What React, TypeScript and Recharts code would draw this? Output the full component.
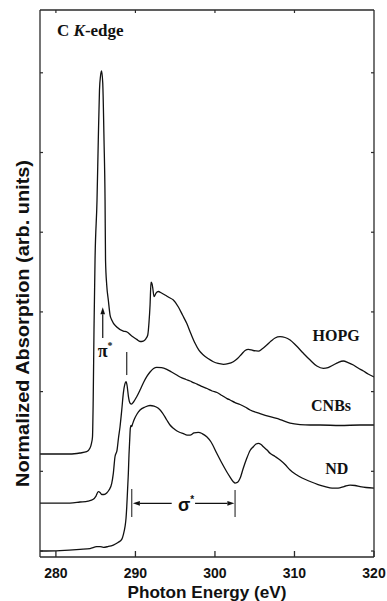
import React from 'react'
import {
  LineChart,
  Line,
  XAxis,
  YAxis,
  ReferenceLine,
  ReferenceDot,
} from 'recharts'

// photon energy (eV) / normalized absorption
const hopgEnergy = [
  278.0, 281.77, 283.03, 283.87, 284.29, 284.48, 284.6, 284.69, 284.79, 284.92,
  285.17, 285.33, 285.48, 285.61, 285.74, 285.89, 286.05, 286.18, 286.24, 286.39,
  286.59, 286.81, 287.02, 287.65, 288.48, 288.94, 289.53, 290.16, 290.58, 290.99,
  291.33, 291.55, 291.71, 291.84, 291.96, 292.09, 292.18, 292.34, 292.59, 292.88,
  293.28, 293.72, 294.23, 294.77, 295.4, 295.92, 296.45, 296.99, 297.5, 298.0,
  298.54, 299.13, 299.8, 300.39, 301.06, 301.65, 302.31, 302.84, 303.37, 303.79,
  304.2, 304.79, 305.46, 305.92, 306.52, 307.06, 307.56, 308.19, 308.82, 309.45,
  310.2, 311.12, 311.97, 312.81, 313.64, 314.23, 314.89, 315.48, 316.15, 316.74,
  317.41, 318.0, 318.67, 319.26, 320.0,
]
const hopgAbs = [
  1.217, 1.217, 1.23, 1.246, 1.292, 1.355, 1.43, 1.895, 2.773, 3.651,
  4.404, 5.157, 5.784, 5.96, 6.023, 5.872, 5.157, 4.404, 3.651, 3.338,
  3.149, 2.961, 2.898, 2.811, 2.76, 2.748, 2.698, 2.656, 2.629, 2.635,
  2.666, 2.71, 2.873, 3.087, 3.375, 3.35, 3.3, 3.191, 3.237, 3.256,
  3.237, 3.212, 3.181, 3.149, 3.062, 2.961, 2.857, 2.723, 2.606, 2.516,
  2.459, 2.415, 2.375, 2.353, 2.343, 2.35, 2.375, 2.415, 2.472, 2.516,
  2.531, 2.516, 2.509, 2.535, 2.585, 2.635, 2.673, 2.689, 2.679, 2.647,
  2.578, 2.481, 2.396, 2.321, 2.292, 2.302, 2.334, 2.365, 2.384, 2.365,
  2.334, 2.296, 2.258, 2.221, 2.183,
]

const cnbEnergy = [
  278.0, 281.77, 283.03, 284.04, 284.7, 285.04, 285.33, 285.55, 285.76, 286.05,
  286.39, 286.68, 287.02, 287.22, 287.43, 287.69, 287.87, 288.06, 288.28, 288.48,
  288.67, 288.82, 288.94, 289.13, 289.32, 289.51, 289.76, 290.16, 290.58, 291.02,
  291.42, 291.84, 292.28, 292.68, 293.28, 293.94, 294.54, 295.19, 295.61, 296.36,
  296.87, 297.28, 297.75, 298.25, 299.01, 299.64, 300.26, 300.89, 301.52, 301.9,
  302.53, 303.16, 303.79, 304.42, 305.67, 306.93, 308.19, 309.45, 310.7, 311.96,
  313.22, 315.74, 318.25, 320.0,
]
const cnbAbs = [
  0.602, 0.602, 0.615, 0.627, 0.649, 0.69, 0.744, 0.734, 0.709, 0.709,
  0.728, 0.765, 0.849, 0.975, 1.183, 1.267, 1.418, 1.556, 1.769, 1.982,
  2.095, 2.124, 2.083, 1.932, 1.857, 1.844, 1.87, 1.936, 2.02, 2.114,
  2.187, 2.246, 2.29, 2.305, 2.302, 2.28, 2.246, 2.208, 2.183, 2.152,
  2.133, 2.114, 2.095, 2.07, 2.039, 2.008, 1.989, 1.951, 1.913, 1.895,
  1.863, 1.838, 1.807, 1.769, 1.725, 1.685, 1.65, 1.606, 1.587, 1.581,
  1.581, 1.575, 1.581, 1.581,
]

const ndEnergy = [
  278.0, 280.52, 283.03, 284.29, 285.13, 285.55, 285.96, 286.55, 287.22, 287.81,
  288.28, 288.5, 288.69, 288.82, 288.91, 289.01, 289.11, 289.19, 289.28, 289.36,
  289.45, 289.53, 289.64, 289.82, 290.2, 290.58, 291.21, 291.84, 292.34, 292.88,
  293.41, 293.94, 294.35, 294.77, 295.23, 295.61, 296.03, 296.49, 296.87, 297.37,
  297.91, 298.38, 298.97, 299.51, 300.23, 300.83, 301.48, 301.9, 302.31, 302.53,
  302.74, 302.97, 303.16, 303.53, 304.0, 304.42, 304.83, 305.17, 305.46, 305.8,
  306.09, 306.55, 306.93, 307.56, 308.19, 308.82, 309.45, 310.2, 310.96, 311.97,
  312.97, 313.85, 314.73, 315.48, 316.23, 316.99, 317.62, 318.25, 319.01, 320.0,
]
const ndAbs = [
  0.0, 0.006, 0.021, 0.031, 0.054, 0.056, 0.046, 0.056, 0.075, 0.107,
  0.147, 0.213, 0.305, 0.414, 0.556, 0.765, 0.975, 1.205, 1.393, 1.543,
  1.575, 1.562, 1.593, 1.644, 1.719, 1.769, 1.807, 1.826, 1.819, 1.79,
  1.731, 1.644, 1.581, 1.54, 1.506, 1.487, 1.474, 1.455, 1.455, 1.481,
  1.489, 1.474, 1.434, 1.368, 1.226, 1.11, 0.995, 0.928, 0.87, 0.853,
  0.857, 0.878, 0.912, 1.029, 1.163, 1.261, 1.309, 1.343, 1.351, 1.336,
  1.309, 1.267, 1.226, 1.186, 1.142, 1.085, 1.016, 0.96, 0.916, 0.872,
  0.834, 0.809, 0.79, 0.79, 0.809, 0.828, 0.822, 0.809, 0.797, 0.79,
]

const xTicks = [280, 290, 300, 310, 320]
const topTicks = [280, 290, 300, 310]
const yTicks = [0, 1, 2, 3, 4, 5, 6]

const zip = (es: number[], vs: number[]) => es.map((e, i) => ({ e, v: vs[i] }))
const hopg = zip(hopgEnergy, hopgAbs)
const cnbs = zip(cnbEnergy, cnbAbs)
const nd = zip(ndEnergy, ndAbs)

const SANS = '"Liberation Sans", Arial, sans-serif'
const SERIF = '"Liberation Serif", "Times New Roman", serif'
const AXIS = '#2a2a2a'
const INK = '#111'

const BottomTick = ({ x, y, payload }: any) => (
  <g>
    <line x1={x} y1={y} x2={x} y2={y - 6} stroke={AXIS} strokeWidth={1.3} />
    <text x={x} y={y + 21} textAnchor="middle" fontFamily={SANS} fontSize={14} fontWeight="bold" fill={INK}>
      {payload.value}
    </text>
  </g>
)
const TopTick = ({ x, y }: any) => <line x1={x} y1={y} x2={x} y2={y + 3} stroke={AXIS} strokeWidth={1.2} />
const LeftTick = ({ x, y }: any) => <line x1={x} y1={y} x2={x + 3} y2={y} stroke={AXIS} strokeWidth={1.2} />
const RightTick = ({ x, y }: any) => <line x1={x} y1={y} x2={x - 3} y2={y} stroke={AXIS} strokeWidth={1.2} />

const XTitle = ({ viewBox }: any) => (
  <text
    x={viewBox.x + viewBox.width / 2}
    y={viewBox.y + 41}
    textAnchor="middle"
    fontFamily={SANS}
    fontSize={16.5}
    fontWeight="bold"
    fill={INK}
    textLength={159}
    lengthAdjust="spacingAndGlyphs"
  >
    Photon Energy (eV)
  </text>
)
const YTitle = ({ viewBox }: any) => {
  const cx = viewBox.x + 28.5
  const cy = viewBox.y + viewBox.height / 2 + 40
  return (
    <text
      x={cx}
      y={cy}
      transform={`rotate(-90 ${cx} ${cy})`}
      textAnchor="middle"
      fontFamily={SANS}
      fontSize={17.5}
      fontWeight="bold"
      fill={INK}
      textLength={327}
      lengthAdjust="spacingAndGlyphs"
    >
      Normalized Absorption (arb. units)
    </text>
  )
}

const Arrow = ({ x1, y1, x2, y2 }: any) => {
  const a = Math.atan2(y2 - y1, x2 - x1)
  const len = 7
  const half = 2.3
  const bx = x2 - len * Math.cos(a)
  const by = y2 - len * Math.sin(a)
  const px = -Math.sin(a) * half
  const py = Math.cos(a) * half
  return (
    <g>
      <line x1={x1} y1={y1} x2={bx} y2={by} stroke={INK} strokeWidth={1.2} />
      <polygon points={`${x2},${y2} ${bx + px},${by + py} ${bx - px},${by - py}`} fill={INK} />
    </g>
  )
}

const Word = (text: string, family: string, size: number, dx = 0, dy = 5) => (p: any) => (
  <text x={p.cx + dx} y={p.cy + dy} textAnchor="middle" fontFamily={family} fontSize={size} fontWeight="bold" fill={INK}>
    {text}
  </text>
)

const PiLabel = (p: any) => (
  <text x={p.cx - 4.5} y={p.cy + 5} fontFamily={SERIF} fontSize={18} fontWeight="bold" fill={INK}>
    π<tspan dy={-8} fontSize={10}>*</tspan>
  </text>
)
const SigmaLabel = (p: any) => (
  <text x={p.cx - 6} y={p.cy + 5.5} fontFamily={SANS} fontSize={18} fontWeight="bold" fill={INK}>
    σ<tspan dy={-8} fontSize={10}>*</tspan>
  </text>
)
const EdgeTitle = (p: any) => (
  <text x={p.cx} y={p.cy + 5} fontFamily={SERIF} fontSize={17} fontWeight="bold" fill={INK}>
    C <tspan fontStyle="italic">K</tspan>-edge
  </text>
)

export default function App() {
  return (
    <div style={{ position: 'absolute', left: 0, top: 0, background: '#fff' }}>
      <LineChart width={387} height={601} margin={{ top: 0, right: 0, bottom: 0, left: 0 }}>
        <XAxis
          dataKey="e"
          type="number"
          domain={[278, 320]}
          ticks={xTicks}
          interval={0}
          allowDataOverflow
          height={44}
          tickSize={0}
          tickMargin={0}
          tickLine={false}
          tick={<BottomTick />}
          axisLine={{ stroke: AXIS, strokeWidth: 1.3 }}
          label={{ content: XTitle }}
        />
        <XAxis
          xAxisId="top"
          orientation="top"
          dataKey="e"
          type="number"
          domain={[278, 320]}
          ticks={topTicks}
          interval={0}
          allowDataOverflow
          height={10}
          tickSize={0}
          tickMargin={0}
          tickLine={false}
          tick={<TopTick />}
          axisLine={{ stroke: AXIS, strokeWidth: 1.3 }}
        />
        <YAxis
          type="number"
          domain={[-0.075, 6.788]}
          ticks={yTicks}
          interval={0}
          allowDataOverflow
          width={40}
          tickSize={0}
          tickMargin={0}
          tickLine={false}
          tick={<LeftTick />}
          axisLine={{ stroke: AXIS, strokeWidth: 1.3 }}
          label={{ content: YTitle }}
        />
        <YAxis
          yAxisId="right"
          orientation="right"
          type="number"
          domain={[-0.075, 6.788]}
          ticks={yTicks}
          interval={0}
          allowDataOverflow
          width={13}
          tickSize={0}
          tickMargin={0}
          tickLine={false}
          tick={<RightTick />}
          axisLine={{ stroke: AXIS, strokeWidth: 1.3 }}
        />

        <Line data={hopg} dataKey="v" type="monotone" stroke={INK} strokeWidth={1.3} dot={false} activeDot={false} isAnimationActive={false} />
        <Line data={cnbs} dataKey="v" type="monotone" stroke={INK} strokeWidth={1.3} dot={false} activeDot={false} isAnimationActive={false} />
        <Line data={nd} dataKey="v" type="monotone" stroke={INK} strokeWidth={1.3} dot={false} activeDot={false} isAnimationActive={false} />

        {/* pi* marker on HOPG */}
        <ReferenceLine segment={[{ x: 285.89, y: 2.673 }, { x: 285.89, y: 3.06 }]} shape={Arrow} />
        <ReferenceDot x={285.82} y={2.497} r={0} shape={PiLabel} />
        {/* pi* tick above the CNBs peak */}
        <ReferenceLine segment={[{ x: 288.9, y: 2.208 }, { x: 288.9, y: 2.497 }]} stroke="#444" strokeWidth={1.4} />

        {/* sigma* bracket on ND */}
        <ReferenceLine segment={[{ x: 289.53, y: 0.427 }, { x: 289.53, y: 0.778 }]} stroke="#555" strokeWidth={1.4} />
        <ReferenceLine segment={[{ x: 302.53, y: 0.427 }, { x: 302.53, y: 0.765 }]} stroke="#555" strokeWidth={1.4} />
        <ReferenceLine segment={[{ x: 294.56, y: 0.598 }, { x: 289.68, y: 0.598 }]} shape={Arrow} />
        <ReferenceLine segment={[{ x: 297.5, y: 0.598 }, { x: 302.44, y: 0.598 }]} shape={Arrow} />
        <ReferenceDot x={296.11} y={0.565} r={0} shape={SigmaLabel} />

        <ReferenceDot x={315.23} y={2.698} r={0} shape={Word('HOPG', SERIF, 16)} />
        <ReferenceDot x={314.6} y={1.819} r={0} shape={Word('CNBs', SERIF, 16)} />
        <ReferenceDot x={315.32} y={1.029} r={0} shape={Word('ND', SERIF, 16)} />
        <ReferenceDot x={280.14} y={6.524} r={0} shape={EdgeTitle} />
      </LineChart>
    </div>
  )
}
